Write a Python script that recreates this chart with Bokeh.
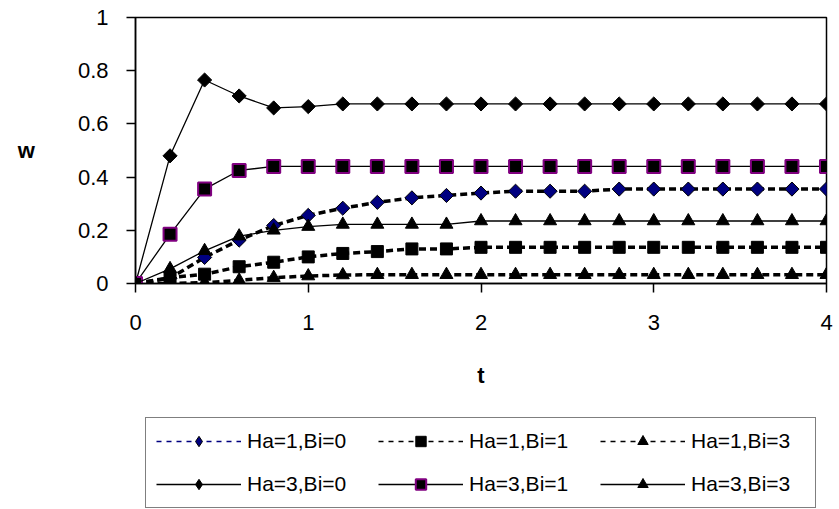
import math
from bokeh.plotting import figure
from bokeh.layouts import column
from bokeh.models import Legend, LegendItem, FixedTicker
from bokeh.embed import file_html
from bokeh.resources import INLINE

# ---- data ----
t = [0.0, 0.2, 0.4, 0.6, 0.8, 1.0, 1.2, 1.4, 1.6, 1.8, 2.0,
     2.2, 2.4, 2.6, 2.8, 3.0, 3.2, 3.4, 3.6, 3.8, 4.0]

w_ha1_bi0 = [0.0, 0.02, 0.098, 0.163, 0.218, 0.256, 0.283, 0.305, 0.322, 0.331, 0.34,
             0.347, 0.347, 0.347, 0.355, 0.355, 0.355, 0.355, 0.355, 0.355, 0.355]
w_ha1_bi1 = [0.0, 0.022, 0.035, 0.063, 0.08, 0.1, 0.113, 0.12, 0.13, 0.13, 0.136,
             0.136, 0.136, 0.136, 0.136, 0.136, 0.136, 0.136, 0.136, 0.136, 0.136]
w_ha1_bi3 = [0.0, 0.0, 0.003, 0.012, 0.022, 0.028, 0.032, 0.033, 0.033, 0.033, 0.033,
             0.033, 0.033, 0.033, 0.033, 0.033, 0.033, 0.033, 0.033, 0.033, 0.033]
w_ha3_bi0 = [0.0, 0.48, 0.765, 0.705, 0.66, 0.665, 0.675, 0.675, 0.675, 0.675, 0.675,
             0.675, 0.675, 0.675, 0.675, 0.675, 0.675, 0.675, 0.675, 0.675, 0.675]
w_ha3_bi1 = [0.0, 0.185, 0.355, 0.425, 0.44, 0.44, 0.44, 0.44, 0.44, 0.44, 0.44,
             0.44, 0.44, 0.44, 0.44, 0.44, 0.44, 0.44, 0.44, 0.44, 0.44]
w_ha3_bi3 = [0.0, 0.055, 0.123, 0.178, 0.2, 0.214, 0.222, 0.222, 0.222, 0.222, 0.235,
             0.235, 0.235, 0.235, 0.235, 0.235, 0.235, 0.235, 0.235, 0.235, 0.235]

series_labels = ["Ha=1,Bi=0", "Ha=1,Bi=1", "Ha=1,Bi=3",
                 "Ha=3,Bi=0", "Ha=3,Bi=1", "Ha=3,Bi=3"]

x_ticks = [0, 1, 2, 3, 4]
x_tick_labels = ["0", "1", "2", "3", "4"]
y_ticks = [0, 0.2, 0.4, 0.6, 0.8, 1]
y_tick_labels = ["0", "0.2", "0.4", "0.6", "0.8", "1"]

FONT = "Liberation Sans"
DASH = "7 4"
ROT = math.pi / 4

# marker styles per series:
# (marker, angle, size, fill, edge, edge width, legend marker, legend size)
marker_styles = [
    ("square", ROT, 10, "#000080", "black", 1, "diamond", 14),
    ("square", 0, 12, "black", "black", 1, "square", 10),
    ("triangle", 0, 13, "black", "black", 1, "triangle", 11),
    ("square", ROT, 10, "black", "black", 1, "diamond", 14),
    ("square", 0, 13, "black", "#800080", 2, "square", 10),
    ("triangle", 0, 13, "black", "black", 1, "triangle", 11),
]
series_values = [w_ha1_bi0, w_ha1_bi1, w_ha1_bi3, w_ha3_bi0, w_ha3_bi1, w_ha3_bi3]

# ---------------- main chart ----------------
p = figure(width=839, height=400, output_backend="svg", toolbar_location=None,
           x_range=(0, 4), y_range=(0, 1),
           min_border_left=135, min_border_right=13, min_border_top=17,
           min_border_bottom=117)

p.xgrid.visible = False
p.ygrid.visible = False
p.outline_line_color = "black"
p.outline_line_width = 1.5
p.background_fill_color = "white"
p.border_fill_color = "white"

for ax in (p.xaxis[0], p.yaxis[0]):
    ax.minor_tick_line_color = None
    ax.major_tick_in = 0
    ax.major_tick_out = 9
    ax.axis_line_width = 1.5
    ax.major_tick_line_width = 1.5
    ax.axis_line_color = "black"
    ax.major_tick_line_color = "black"
    ax.major_label_text_font = FONT
    ax.major_label_text_font_size = "22px"
    ax.major_label_text_color = "black"
    ax.axis_label_text_font = FONT
    ax.axis_label_text_font_size = "22px"
    ax.axis_label_text_font_style = "bold"
    ax.axis_label_text_color = "black"

p.xaxis.ticker = FixedTicker(ticks=x_ticks)
p.xaxis.major_label_overrides = dict(zip(x_ticks, x_tick_labels))
p.xaxis.major_label_standoff = 22
p.xaxis.axis_label = "t"
p.xaxis.axis_label_standoff = 30

p.yaxis.ticker = FixedTicker(ticks=y_ticks)
p.yaxis.major_label_overrides = dict(zip(y_ticks, y_tick_labels))
p.yaxis.major_label_standoff = 18
p.yaxis.axis_label = "w"
p.yaxis.axis_label_orientation = "horizontal"
p.yaxis.axis_label_standoff = 40

for i, vals in enumerate(series_values):
    mk, ang, sz, fc, lc, lw, _, _ = marker_styles[i]
    if i < 3:
        p.line(t, vals, line_color="black", line_width=3.5, line_dash=DASH)
    else:
        p.line(t, vals, line_color="black", line_width=1.3)
    p.scatter(t, vals, marker=mk, angle=ang, size=sz,
              fill_color=fc, line_color=lc, line_width=lw)

# ---------------- legend strip ----------------
# The strip's y range lies above all data, so its series renderers draw
# nothing in the strip; they only supply the legend's glyph samples.
q = figure(width=839, height=109, output_backend="svg", toolbar_location=None,
           x_range=(0, 4), y_range=(5, 6), x_axis_location=None,
           y_axis_location=None, min_border_left=135, min_border_right=13,
           min_border_top=0, min_border_bottom=0)
q.xgrid.visible = False
q.ygrid.visible = False
q.outline_line_color = None
q.background_fill_color = "white"
q.border_fill_color = "white"

legend_line_colors = ["#000080", "black", "black", "black", "black", "black"]
items = []
for i, lab in enumerate(series_labels):
    mk, ang, sz, fc, lc, lw, lmk, lsz = marker_styles[i]
    vals = series_values[i]
    if i < 3:
        lr = q.line(t, vals, line_color=legend_line_colors[i], line_width=1.5,
                    line_dash="5 5")
    else:
        lr = q.line(t, vals, line_color=legend_line_colors[i], line_width=1.3)
    sr = q.scatter(t, vals, marker=lmk, size=lsz,
                   fill_color=fc, line_color=lc, line_width=lw)
    items.append(LegendItem(label=lab, renderers=[lr, sr]))

legend = Legend(items=items, location=(10, 1), orientation="horizontal",
                ncols=3, glyph_width=85, glyph_height=26, label_width=114,
                label_standoff=6, spacing=17, padding=10, margin=0,
                border_line_color="black", border_line_width=1.5,
                background_fill_color="white", background_fill_alpha=1.0,
                label_text_font=FONT, label_text_font_size="21px",
                label_text_color="black")
q.add_layout(legend, "center")

layout = column(p, q, spacing=0)
open("out.html", "w").write(file_html(layout, INLINE))
